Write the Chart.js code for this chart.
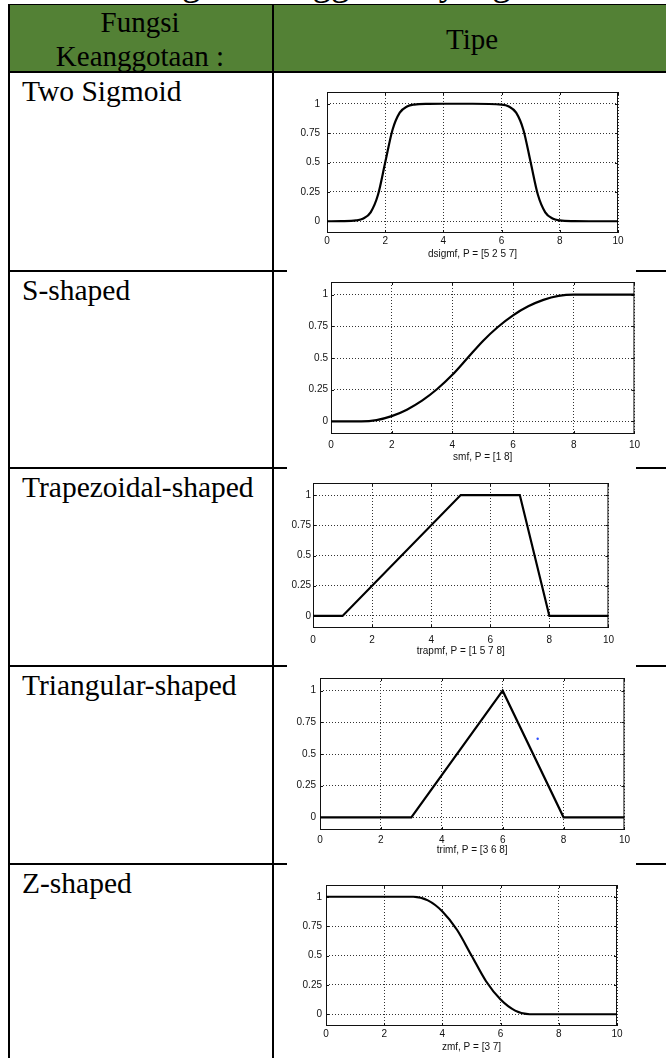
<!DOCTYPE html>
<html>
<head>
<meta charset="utf-8">
<script src="https://cdn.jsdelivr.net/npm/chart.js@4.4.1/dist/chart.umd.min.js"></script>
<style>
  html, body { margin: 0; padding: 0; background: #fff; width: 666px; height: 1058px; overflow: hidden; }
  #table { position: absolute; left: 0; top: 0; }
  canvas { position: absolute; }
</style>
</head>
<body>
<svg id="table" width="666" height="1058"></svg>
<script>
// ---------- data ----------
const captionText = "Tabel 2.1 Fungsi Keanggotaan yang Tersedia";
const headerLeft  = ["Fungsi", "Keanggotaan :"];
const headerRight = "Tipe";
const rowLabels   = ["Two Sigmoid", "S-shaped", "Trapezoidal-shaped", "Triangular-shaped", "Z-shaped"];
const chartTitles = ["dsigmf, P = [5 2 5 7]", "smf, P = [1 8]", "trapmf, P = [1 5 7 8]", "trimf, P = [3 6 8]", "zmf, P = [3 7]"];

const xTicks = [0, 2, 4, 6, 8, 10];
const yTicks = [0, 0.25, 0.5, 0.75, 1];

// two sigmoid (dsigmf)
const dsigX = [0, 0.5, 1, 1.25, 1.5, 1.75, 2, 2.25, 2.5, 2.75, 3, 3.5, 4, 5, 6, 6.25, 6.5, 6.75, 7, 7.25, 7.5, 7.75, 8, 8.5, 9, 10];
const dsigY = [0, 0.001, 0.007, 0.023, 0.076, 0.223, 0.5, 0.777, 0.924, 0.977, 0.993, 0.999, 1, 1, 0.993, 0.977, 0.924, 0.777, 0.5, 0.223, 0.076, 0.023, 0.007, 0.001, 0, 0];

// s-shaped (smf)
const smfX = [0, 1, 1.5, 2, 2.5, 3, 3.5, 4, 4.5, 5, 5.5, 6, 6.5, 7, 7.5, 8, 9, 10];
const smfY = [0, 0, 0.01, 0.041, 0.092, 0.163, 0.255, 0.367, 0.5, 0.633, 0.745, 0.837, 0.908, 0.959, 0.99, 1, 1, 1];

// trapezoidal (trapmf)
const trapX = [0, 1, 5, 7, 8, 10];
const trapY = [0, 0, 1, 1, 0, 0];

// triangular (trimf)
const triX = [0, 3, 6, 8, 10];
const triY = [0, 0, 1, 0, 0];
const triDotX = [7.15];
const triDotY = [0.62];

// z-shaped (zmf)
const zmfX = [0, 1, 2, 3, 3.5, 4, 4.5, 5, 5.5, 6, 6.5, 7, 8, 9, 10];
const zmfY = [1, 1, 1, 1, 0.969, 0.875, 0.719, 0.5, 0.281, 0.125, 0.031, 0, 0, 0, 0];

const series = [
  { xs: dsigX, ys: dsigY, smooth: true },
  { xs: smfX,  ys: smfY,  smooth: true },
  { xs: trapX, ys: trapY, smooth: false },
  { xs: triX,  ys: triY,  smooth: false, dotX: triDotX, dotY: triDotY },
  { xs: zmfX,  ys: zmfY,  smooth: true }
];

// ---------- layout ----------
const rowTops = [72, 271, 468, 666, 864];
// plot rectangles and label offsets of each small figure
const plotBoxes = [
  { l: 327, t: 85,  r: 618, b: 233,  lab: 2, tit: 21, gap: 7 },
  { l: 331, t: 279, r: 637, b: 434,  lab: 5, tit: 23, gap: 3 },
  { l: 313, t: 481, r: 612, b: 628,  lab: 6, tit: 23, gap: 2 },
  { l: 320, t: 674, r: 626, b: 830,  lab: 4, tit: 20, gap: 4 },
  { l: 326, t: 881, r: 617, b: 1026, lab: 2, tit: 21, gap: 4 }
];

// ---------- table (svg) ----------
const svg = document.getElementById("table");
const NS  = "http://www.w3.org/2000/svg";
function el(tag, attrs, text) {
  const e = document.createElementNS(NS, tag);
  for (const k in attrs) e.setAttribute(k, attrs[k]);
  if (text) e.textContent = text;
  svg.appendChild(e);
  return e;
}
const serif = "'Liberation Serif', 'Times New Roman', serif";
const line = (x1, y1, x2, y2, w) => el("line", { x1, y1, x2, y2, stroke: "#000", "stroke-width": w });

el("text", { x: -22, y: -5, "font-family": serif, "font-size": 37, fill: "#000" }, captionText);
el("rect", { x: 8, y: 4, width: 660, height: 68, fill: "#538135" });
line(8, 4.5, 666, 4.5, 1);
line(8, 72, 666, 72, 2);
line(9, 4, 9, 1058, 2);
line(273, 4, 273, 1058, 2);
rowTops.slice(1).forEach(y => {
  line(8, y, 287, y, 2);
  line(636, y, 666, y, 2);
});

el("text", { x: 140, y: 32, "text-anchor": "middle", "font-family": serif, "font-size": 29 }, headerLeft[0]);
el("text", { x: 140, y: 66, "text-anchor": "middle", "font-family": serif, "font-size": 29 }, headerLeft[1]);
el("text", { x: 472, y: 49, "text-anchor": "middle", "font-family": serif, "font-size": 29 }, headerRight);
rowLabels.forEach((t, i) => {
  el("text", { x: 22, y: rowTops[i] + 29, "font-family": serif, "font-size": 29.5 }, t);
});

// ---------- charts ----------
const sans = "'Liberation Sans', Arial, sans-serif";
const PAD_T = 6, PAD_R = 8, Y_W = 40;
const TITLE_SIZE = 10, TICK_SIZE = 10;

// MATLAB-like box with inward ticks on all four sides
const framePlugin = {
  id: "frame",
  beforeDatasetsDraw(chart) {
    const { ctx, chartArea: a, scales: { x, y } } = chart;
    ctx.save();
    ctx.strokeStyle = "#111";
    ctx.lineWidth = 1;
    ctx.strokeRect(a.left + 0.5, a.top + 0.5, a.right - a.left - 1, a.bottom - a.top - 1);
    ctx.beginPath();
    xTicks.forEach(v => {
      const px = Math.round(x.getPixelForValue(v)) + 0.5;
      ctx.moveTo(px, a.bottom); ctx.lineTo(px, a.bottom - 3);
      ctx.moveTo(px, a.top);    ctx.lineTo(px, a.top + 3);
    });
    yTicks.forEach(v => {
      const py = Math.round(y.getPixelForValue(v)) + 0.5;
      ctx.moveTo(a.left, py);  ctx.lineTo(a.left + 3, py);
      ctx.moveTo(a.right, py); ctx.lineTo(a.right - 3, py);
    });
    ctx.stroke();
    ctx.restore();
  }
};

series.forEach((s, i) => {
  const box = plotBoxes[i];
  const w = box.r - box.l, h = box.b - box.t;
  const xH = box.tit + TITLE_SIZE * 0.6;
  const cv = document.createElement("canvas");
  cv.width  = w + Y_W + PAD_R;
  cv.height = h + PAD_T + xH;
  cv.style.left = (box.l - Y_W) + "px";
  cv.style.top  = (box.t - PAD_T) + "px";
  document.body.appendChild(cv);

  const datasets = [{
    data: s.xs.map((x, k) => ({ x, y: s.ys[k] })),
    borderColor: "#000",
    borderWidth: 2.2,
    pointRadius: 0,
    tension: 0,
    cubicInterpolationMode: s.smooth ? "monotone" : "default",
    fill: false
  }];
  if (s.dotX) {
    datasets.push({
      type: "scatter",
      data: s.dotX.map((x, k) => ({ x, y: s.dotY[k] })),
      pointRadius: 1.2,
      pointBackgroundColor: "#2a4cff",
      pointBorderWidth: 0,
      showLine: false
    });
  }

  new Chart(cv, {
    type: "line",
    data: { datasets },
    plugins: [framePlugin],
    options: {
      responsive: false,
      animation: false,
      events: [],
      layout: { padding: { left: 0, top: PAD_T, right: PAD_R, bottom: 0 } },
      plugins: { legend: { display: false }, tooltip: { enabled: false } },
      scales: {
        x: {
          type: "linear",
          min: 0, max: 10,
          afterBuildTicks: sc => { sc.ticks = xTicks.map(v => ({ value: v })); },
          afterFit: sc => { sc.height = xH; },
          ticks: { padding: box.lab, color: "#111", font: { family: sans, size: TICK_SIZE }, callback: v => String(v), maxRotation: 0, autoSkip: false },
          grid: { color: "#333", lineWidth: 1, drawTicks: false },
          border: { display: false, dash: [1, 2] },
          title: { display: true, text: chartTitles[i], color: "#111", font: { family: sans, size: TITLE_SIZE }, padding: 0 }
        },
        y: {
          min: -0.1, max: 1.1,
          afterBuildTicks: sc => { sc.ticks = yTicks.map(v => ({ value: v })); },
          afterFit: sc => { sc.width = Y_W; },
          ticks: { padding: box.gap, color: "#111", font: { family: sans, size: TICK_SIZE }, callback: v => String(v), autoSkip: false },
          grid: { color: "#333", lineWidth: 1, drawTicks: false },
          border: { display: false, dash: [1, 2] }
        }
      }
    }
  });
});
</script>
</body>
</html>
